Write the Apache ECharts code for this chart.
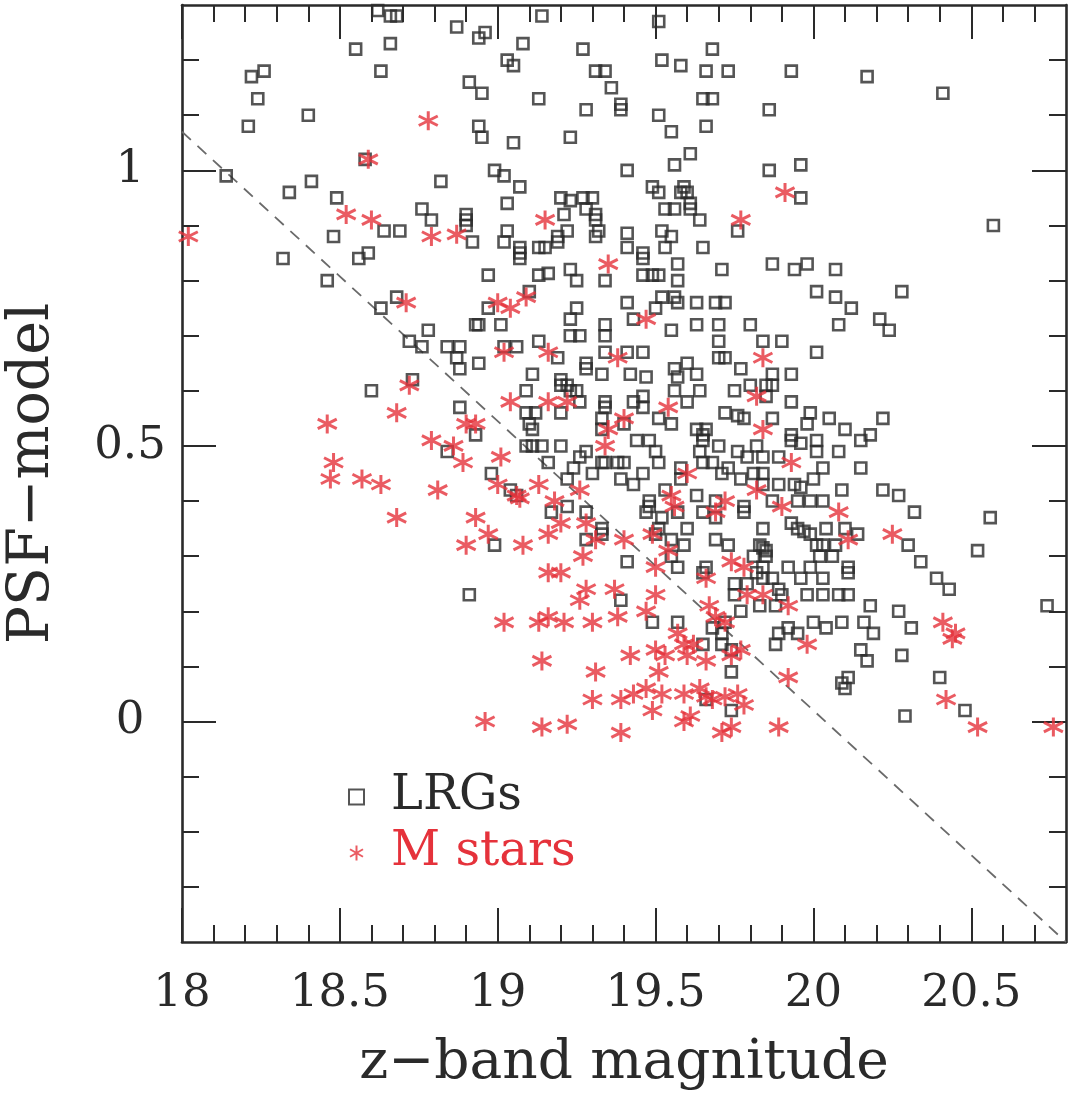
<!DOCTYPE html>
<html>
<head>
<meta charset="utf-8">
<script src="https://cdn.jsdelivr.net/npm/echarts@6/dist/echarts.min.js"></script>
<style>
html,body{margin:0;padding:0;background:#ffffff;}
#chart{width:1071px;height:1096px;}
</style>
</head>
<body>
<div id="chart"></div>
<script>
// ---- axis ranges and ticks ----
const xMin = 18, xMax = 20.8;
const yMin = -0.4, yMax = 1.3;
const xMajorTicks = [18, 18.5, 19, 19.5, 20, 20.5];
const xMinorTicks = [18.1,18.2,18.3,18.4,18.6,18.7,18.8,18.9,19.1,19.2,19.3,19.4,19.6,19.7,19.8,19.9,20.1,20.2,20.3,20.4,20.6,20.7];
const yMajorTicks = [0, 0.5, 1];
const yMinorTicks = [-0.3,-0.2,-0.1,0.1,0.2,0.3,0.4,0.6,0.7,0.8,0.9,1.1,1.2];

const xTitle = 'z\u2212band magnitude';
const yTitle = 'PSF\u2212model';
const seriesNames = ['LRGs', 'M stars'];

// dashed separation line (end points)
const cutLine = [[18, 1.07], [20.8, -0.40]];

// LRGs: [z-band magnitude, PSF-model]
const lrgs = [
[18.62,1.29],[18.66,1.28],[18.68,1.28],[18.87,1.26],[18.94,1.24],[18.96,1.25],[18.66,1.23],[18.55,1.22],[18.63,1.18],[18.26,1.18],[18.22,1.17],[18.24,1.13],[18.40,1.10],[18.21,1.08],[18.91,1.16],[18.95,1.14],[18.94,1.08],[18.95,1.06],[18.14,0.99],[18.34,0.96],[18.41,0.98],[18.49,0.95],[18.82,0.98],[18.58,1.02],[18.76,0.93],[18.79,0.91],[18.90,0.92],[18.90,0.91],[18.90,0.90],[18.64,0.89],[18.69,0.89],[18.48,0.88],[18.92,0.87],[18.32,0.84],[18.56,0.84],[18.59,0.85],[18.46,0.80],[18.68,0.77],[18.63,0.75],[18.78,0.71],[18.72,0.69],[18.76,0.68],[18.84,0.68],[18.88,0.68],[18.87,0.66],[18.88,0.64],[18.93,0.72],[18.94,0.65],[18.60,0.60],[18.73,0.62],[18.88,0.57],[18.93,0.52],[18.84,0.49],[18.91,0.23],
[19.14,1.28],[19.51,1.27],[19.08,1.23],[19.27,1.22],[19.68,1.22],[19.03,1.20],[19.05,1.19],[19.52,1.20],[19.58,1.19],[19.66,1.18],[19.73,1.18],[19.31,1.18],[19.34,1.18],[19.36,1.15],[19.13,1.13],[19.39,1.12],[19.39,1.11],[19.28,1.11],[19.51,1.10],[19.65,1.13],[19.68,1.13],[19.86,1.11],[19.55,1.07],[19.66,1.08],[19.05,1.05],[19.23,1.06],[19.61,1.03],[19.56,1.01],[19.41,1.00],[19.86,1.00],[18.99,1.00],[19.02,0.99],[19.07,0.97],[19.49,0.97],[19.51,0.96],[19.59,0.97],[19.58,0.96],[19.60,0.96],[19.61,0.94],[19.61,0.93],[19.64,0.91],[19.03,0.94],[19.20,0.95],[19.23,0.945],[19.27,0.95],[19.30,0.95],[19.21,0.92],[19.28,0.93],[19.31,0.92],[19.31,0.91],[19.53,0.93],[19.56,0.93],[19.03,0.89],[19.22,0.89],[19.19,0.88],[19.32,0.89],[19.31,0.88],[19.41,0.886],[19.52,0.89],[19.55,0.88],[19.76,0.89],
[19.93,1.18],[20.17,1.17],[20.41,1.14],[19.96,1.01],[19.96,0.95],[20.57,0.90],
[19.02,0.87],[19.07,0.86],[19.07,0.85],[19.07,0.84],[19.13,0.86],[19.15,0.86],[19.19,0.87],[19.41,0.86],[19.46,0.85],[19.46,0.84],[19.53,0.86],[19.57,0.83],[19.65,0.86],[19.87,0.83],[18.97,0.81],[19.13,0.81],[19.16,0.813],[19.23,0.82],[19.25,0.80],[19.34,0.80],[19.46,0.81],[19.49,0.81],[19.51,0.81],[19.57,0.80],[19.71,0.82],[19.52,0.77],[19.56,0.77],[19.57,0.76],[19.10,0.78],[18.97,0.75],[19.25,0.75],[19.41,0.76],[19.43,0.73],[19.50,0.75],[19.63,0.76],[19.69,0.76],[19.72,0.76],[18.94,0.72],[19.01,0.72],[19.23,0.73],[19.34,0.72],[19.34,0.70],[19.55,0.71],[19.63,0.72],[19.70,0.72],[19.80,0.72],[19.84,0.69],[19.13,0.69],[19.23,0.70],[19.26,0.70],[19.02,0.68],[19.06,0.68],[19.34,0.67],[19.41,0.67],[19.46,0.67],[19.70,0.69],[19.70,0.66],[19.72,0.66],[19.19,0.66],[19.28,0.65],[19.28,0.64],[19.33,0.63],[19.42,0.63],[19.47,0.625],[19.56,0.64],[19.60,0.65],[19.57,0.625],[19.63,0.63],[19.77,0.64],[19.11,0.63],[19.20,0.62],[19.20,0.61],[19.22,0.61],[19.23,0.60],[19.09,0.60],[19.25,0.60],[19.26,0.58],[19.34,0.58],[19.34,0.57],[19.46,0.59],[19.46,0.57],[19.43,0.58],[19.64,0.60],[19.56,0.60],[19.60,0.58],[19.75,0.60],[19.80,0.61],[19.85,0.61],[19.09,0.56],[19.12,0.56],[19.10,0.54],[19.11,0.53],[19.20,0.56],[19.33,0.55],[19.40,0.54],[19.51,0.55],[19.55,0.54],[19.72,0.56],[19.76,0.555],[19.78,0.55],[19.33,0.53],[19.65,0.52],[19.65,0.51],[19.63,0.53],[19.66,0.53],[19.09,0.50],[19.11,0.50],[19.14,0.50],[19.20,0.50],[19.16,0.47],[19.26,0.48],[19.28,0.49],[19.44,0.51],[19.48,0.51],[19.50,0.49],[19.33,0.47],[19.40,0.47],[19.70,0.50],[19.76,0.49],[19.79,0.48],[19.82,0.50],[19.84,0.48],[19.64,0.49],[19.68,0.47],
[19.94,0.82],[19.98,0.83],[20.07,0.82],[20.01,0.78],[20.07,0.77],[20.12,0.75],[20.08,0.72],[20.21,0.73],[20.24,0.71],[20.28,0.78],[19.90,0.69],[20.01,0.67],[19.87,0.63],[19.87,0.61],[19.85,0.59],[19.93,0.63],[19.93,0.58],[19.87,0.55],[19.99,0.56],[19.98,0.54],[20.05,0.55],[20.10,0.53],[20.22,0.55],[20.18,0.52],[20.15,0.51],[19.93,0.52],[19.93,0.51],[19.96,0.505],[20.01,0.51],[20.01,0.49],[20.08,0.49],[19.89,0.48],[20.03,0.46],[20.15,0.46],
[18.98,0.45],[19.24,0.46],[19.22,0.44],[19.30,0.45],[19.34,0.47],[19.38,0.47],[19.39,0.44],[19.43,0.43],[19.46,0.45],[19.51,0.47],[19.58,0.46],[19.58,0.44],[19.65,0.47],[19.71,0.45],[19.73,0.46],[19.77,0.44],[19.81,0.45],[19.84,0.45],[19.84,0.43],[19.04,0.42],[19.06,0.41],[19.22,0.39],[19.17,0.38],[19.28,0.38],[19.33,0.35],[19.33,0.34],[19.28,0.33],[18.99,0.32],[19.41,0.29],[19.48,0.40],[19.48,0.39],[19.47,0.38],[19.53,0.42],[19.52,0.37],[19.57,0.38],[19.63,0.41],[19.69,0.40],[19.69,0.37],[19.78,0.39],[19.78,0.38],[19.65,0.38],[19.60,0.35],[19.51,0.35],[19.50,0.34],[19.55,0.33],[19.59,0.32],[19.69,0.33],[19.73,0.32],[19.55,0.30],[19.57,0.28],[19.66,0.28],[19.65,0.27],[19.84,0.35],[19.83,0.32],[19.84,0.315],[19.85,0.31],[19.81,0.30],[19.84,0.28],[19.82,0.27],[19.75,0.25],[19.75,0.23],[19.79,0.25],[19.77,0.20],[19.83,0.21],[19.39,0.22],[19.49,0.18],[19.57,0.18],[19.68,0.17],[19.72,0.18],[19.71,0.16],[19.65,0.14],[19.71,0.14],[19.74,0.13],[19.74,0.09],[19.74,0.02],[19.66,0.04],
[20.00,0.44],[20.09,0.42],[20.22,0.42],[20.27,0.41],[19.89,0.43],[19.94,0.43],[19.96,0.425],[19.87,0.40],[19.95,0.40],[19.99,0.40],[20.03,0.40],[20.32,0.38],[20.56,0.37],[19.93,0.36],[19.95,0.35],[19.97,0.345],[19.99,0.34],[20.04,0.35],[20.10,0.35],[20.14,0.34],[20.01,0.32],[20.03,0.32],[20.07,0.32],[20.02,0.30],[20.06,0.30],[19.85,0.30],[20.30,0.32],[20.52,0.31],[20.34,0.29],[20.39,0.26],[20.43,0.24],[19.92,0.28],[19.99,0.28],[20.11,0.28],[20.11,0.27],[19.84,0.26],[19.87,0.26],[19.89,0.24],[19.90,0.23],[19.96,0.26],[20.03,0.26],[19.98,0.23],[20.03,0.23],[20.08,0.23],[20.11,0.23],[19.88,0.21],[20.18,0.21],[20.27,0.20],[20.31,0.17],[20.74,0.21],[19.89,0.16],[19.92,0.17],[19.95,0.16],[20.00,0.18],[20.04,0.17],[20.09,0.18],[20.16,0.18],[20.19,0.16],[19.88,0.14],[20.15,0.13],[20.17,0.11],[20.28,0.12],[20.40,0.08],[20.09,0.07],[20.11,0.08],[20.10,0.06],[20.29,0.01],[20.48,0.02]
];

// M stars: [z-band magnitude, PSF-model]
const mStars = [
[18.78,1.09],[18.59,1.02],[18.52,0.92],[18.60,0.91],[18.02,0.88],[18.79,0.88],[18.87,0.884],[18.71,0.76],[18.72,0.61],[18.46,0.54],[18.68,0.56],[18.79,0.51],[18.86,0.50],[18.90,0.54],[18.93,0.54],[18.48,0.47],[18.89,0.47],[18.47,0.44],[18.57,0.44],[18.63,0.43],[18.81,0.42],[18.68,0.37],[18.93,0.37],[18.90,0.32],
[19.15,0.91],[19.77,0.91],[19.91,0.96],[19.35,0.83],[19.00,0.76],[19.04,0.75],[19.09,0.77],[19.47,0.73],[19.02,0.67],[19.16,0.67],[19.38,0.66],[19.84,0.66],[19.04,0.58],[19.16,0.58],[19.22,0.58],[19.35,0.53],[19.40,0.55],[19.54,0.57],[19.82,0.59],[19.84,0.53],[19.01,0.48],[19.34,0.50],[19.93,0.47],
[19.00,0.43],[19.06,0.41],[19.07,0.405],[19.13,0.43],[19.26,0.42],[19.18,0.40],[19.20,0.36],[19.16,0.34],[19.28,0.36],[19.31,0.33],[18.97,0.34],[19.08,0.32],[19.40,0.33],[19.49,0.34],[19.54,0.31],[19.50,0.28],[19.27,0.30],[19.16,0.27],[19.20,0.27],[19.28,0.24],[19.37,0.24],[19.26,0.22],[19.50,0.23],[19.47,0.20],[19.02,0.18],[19.13,0.18],[19.16,0.19],[19.21,0.18],[19.30,0.18],[19.38,0.19],[19.55,0.41],[19.56,0.39],[19.60,0.45],[19.82,0.42],[19.69,0.38],[19.72,0.40],[19.66,0.26],[19.74,0.29],[19.78,0.28],[19.79,0.23],[19.84,0.23],[19.67,0.21],[19.69,0.19],[19.72,0.18],[19.57,0.16],[19.59,0.14],[19.62,0.14],[19.50,0.13],[19.53,0.12],[19.42,0.12],[19.60,0.12],[19.66,0.11],[19.74,0.12],[19.77,0.13],[19.14,0.11],[19.31,0.09],[19.51,0.09],[19.47,0.06],[19.59,0.05],[19.64,0.06],
[18.96,0.00],[19.14,-0.01],[19.22,-0.005],[19.30,0.04],[19.39,0.04],[19.43,0.05],[19.39,-0.02],[19.49,0.02],[19.52,0.05],[19.59,0.00],[19.61,0.01],[19.66,0.045],[19.68,0.04],[19.72,0.045],[19.76,0.05],[19.71,-0.02],[19.74,-0.01],[19.78,0.03],
[19.90,0.39],[20.08,0.38],[20.11,0.33],[20.25,0.34],[19.92,0.21],[19.98,0.14],[19.92,0.08],[20.41,0.18],[20.44,0.15],[20.45,0.16],[20.42,0.04],[19.89,-0.01],[20.52,-0.01],[20.76,-0.01]
];

// ---- styling ----
const ink = '#2a2a2a';
const red = '#e5323b';
const font = 'DejaVu Serif';
const starPath = 'path://M0,-10L0,10M-8.66,-5L8.66,5M-8.66,5L8.66,-5';

function xAxisDef(position, ticks, len, extra) {
  return Object.assign({
    type: 'value', position: position, min: xMin, max: xMax,
    splitLine: {show: false},
    axisLine: {show: false, onZero: false},
    axisTick: {show: true, inside: true, length: len, customValues: ticks, lineStyle: {color: ink, width: 2}},
    axisLabel: {show: false}
  }, extra || {});
}
function yAxisDef(position, ticks, len, extra) {
  return Object.assign({
    type: 'value', position: position, min: yMin, max: yMax,
    splitLine: {show: false},
    axisLine: {show: false, onZero: false},
    axisTick: {show: true, inside: true, length: len, customValues: ticks, lineStyle: {color: ink, width: 2}},
    axisLabel: {show: false}
  }, extra || {});
}
const axisLineOn = {show: true, onZero: false, lineStyle: {color: ink, width: 2.6}};

const chart = echarts.init(document.getElementById('chart'), null, {renderer: 'canvas'});
chart.setOption({
  animation: false,
  backgroundColor: '#ffffff',
  grid: {left: 182, right: 5, top: 5, bottom: 154, containLabel: false, outerBoundsMode: 'none'},
  xAxis: [
    xAxisDef('bottom', xMajorTicks, 34, {
      axisLine: axisLineOn,
      axisLabel: {show: true, customValues: xMajorTicks, margin: 30, fontSize: 45, color: ink, fontFamily: font},
      name: xTitle, nameLocation: 'middle', nameGap: 94,
      nameTextStyle: {fontSize: 55, color: ink, fontFamily: font}
    }),
    xAxisDef('bottom', xMinorTicks, 17),
    xAxisDef('top', xMajorTicks, 34, {axisLine: axisLineOn}),
    xAxisDef('top', xMinorTicks, 17)
  ],
  yAxis: [
    yAxisDef('left', yMajorTicks, 34, {
      axisLine: axisLineOn,
      axisLabel: {show: true, customValues: yMajorTicks, margin: 52, align: 'center', fontSize: 45, color: ink, fontFamily: font},
      name: yTitle, nameLocation: 'middle', nameGap: 120, nameRotate: 90,
      nameTextStyle: {fontSize: 57, color: ink, fontFamily: font}
    }),
    yAxisDef('left', yMinorTicks, 17),
    yAxisDef('right', yMajorTicks, 34, {axisLine: axisLineOn}),
    yAxisDef('right', yMinorTicks, 17)
  ],
  legend: {
    orient: 'vertical', left: 343, top: 768, itemGap: 8,
    itemWidth: 15, itemHeight: 15,
    selectedMode: false,
    textStyle: {fontSize: 48, fontFamily: font, color: ink, padding: [0, 0, 0, 22]},
    data: [
      {name: seriesNames[0], textStyle: {color: ink}},
      {name: seriesNames[1], textStyle: {color: red}}
    ]
  },
  series: [
    {
      type: 'line', data: cutLine, xAxisIndex: 0, yAxisIndex: 0,
      showSymbol: false, symbol: 'none', silent: true, z: 1,
      lineStyle: {color: '#6a6a6a', width: 1.8, type: [12, 9]}
    },
    {
      name: seriesNames[0], type: 'scatter', data: lrgs, xAxisIndex: 0, yAxisIndex: 0,
      symbol: 'rect', symbolSize: 11, z: 2,
      itemStyle: {color: 'rgba(255,255,255,0)', borderColor: ink, borderWidth: 2.6}
    },
    {
      name: seriesNames[1], type: 'scatter', data: mStars, xAxisIndex: 0, yAxisIndex: 0,
      symbol: starPath, symbolSize: 19, z: 3,
      itemStyle: {color: 'rgba(255,255,255,0)', borderColor: red, borderWidth: 3}
    }
  ]
});
</script>
</body>
</html>
